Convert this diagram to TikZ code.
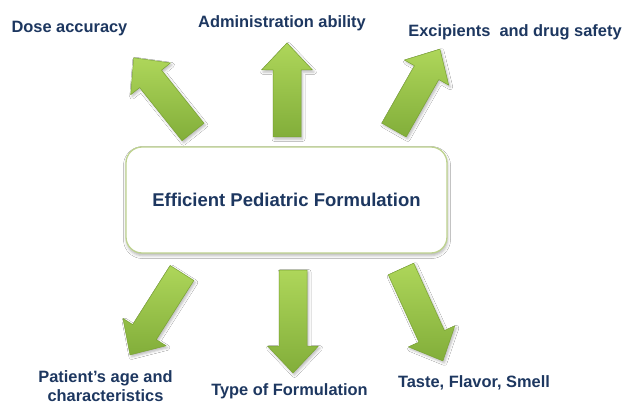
\documentclass[tikz,border=0pt]{standalone}
\usepackage{fontspec}
\setmainfont{Liberation Sans}
\usetikzlibrary{shadows.blur}

\definecolor{navy}{HTML}{1D3760}
\definecolor{glight}{HTML}{AED65A}
\definecolor{gdark}{HTML}{82AE3A}
\definecolor{gedge}{HTML}{79A332}
\definecolor{boxline}{HTML}{BDD28E}

\tikzset{
  lbl/.style={font=\bfseries\fontsize{16.4}{19}\selectfont, text=navy,
              inner sep=0pt, align=center},
  greenbody/.style={top color=glight, bottom color=gdark, draw=gedge,
              line width=0.5pt, line join=round},
  softshadow/.style={blur shadow={shadow xshift=0pt, shadow yshift=0pt,
              shadow opacity=28, shadow blur radius=2.5pt}},
  corebox/.style={draw=boxline, line width=1.3pt, rounded corners=16pt,
              fill=white, minimum width=321pt, minimum height=106pt,
              font=\bfseries\fontsize{18.5}{22}\selectfont, text=navy,
              blur shadow={shadow xshift=0.5pt, shadow yshift=-2.5pt,
              shadow opacity=30, shadow blur radius=3pt}},
}

% block arrow starting at a named coordinate: #1 tail, #2 direction, #3 length
\newcommand\blockarrow[3]{%
  \begin{scope}[shift={(#1)}]
    \begin{scope}[xshift=1.5pt, yshift=-2pt, rotate=#2]
      \path[softshadow] (0,-14) -- ({#3-27},-14) -- ({#3-27},-25.5) -- (#3,0)
        -- ({#3-27},25.5) -- ({#3-27},14) -- (0,14) -- cycle;
    \end{scope}
    \begin{scope}[rotate=#2]
      \path[greenbody] (0,-14) -- ({#3-27},-14) -- ({#3-27},-25.5) -- (#3,0)
        -- ({#3-27},25.5) -- ({#3-27},14) -- (0,14) -- cycle;
    \end{scope}
  \end{scope}}

\begin{document}
\begin{tikzpicture}[x=1pt, y=-1pt]
  \fill[white] (0,0) rectangle (625,404);
  \useasboundingbox (0,0) rectangle (625,404);

  % arrow tails
  \coordinate (t1) at (193,132);
  \coordinate (t2) at (287,137);
  \coordinate (t3) at (394,130);
  \coordinate (t4) at (182,273);
  \coordinate (t5) at (293,270);
  \coordinate (t6) at (401,269);

  \blockarrow{t1}{128.6}{95}
  \blockarrow{t2}{90}{94}
  \blockarrow{t3}{60.4}{93}
  \blockarrow{t4}{-122.4}{97}
  \blockarrow{t5}{-90}{103}
  \blockarrow{t6}{-65.5}{101}

  \node[corebox] (core) at (286.5,200) {Efficient Pediatric Formulation};

  \node[lbl, anchor=base] (dose)  at (69.5,32.5)  {Dose accuracy};
  \node[lbl, anchor=base] (admin) at (282,27.5)   {Administration ability};
  \node[lbl, anchor=base] (excip) at (515,37)     {Excipients\ \ and drug safety};
  \node[lbl, anchor=north] (age)  at (105.5,370)  {Patient’s age and\\characteristics};
  \node[lbl, anchor=base] (type)  at (289.5,395)  {Type of Formulation};
  \node[lbl, anchor=base] (taste) at (474,387)    {Taste, Flavor, Smell};
\end{tikzpicture}
\end{document}
